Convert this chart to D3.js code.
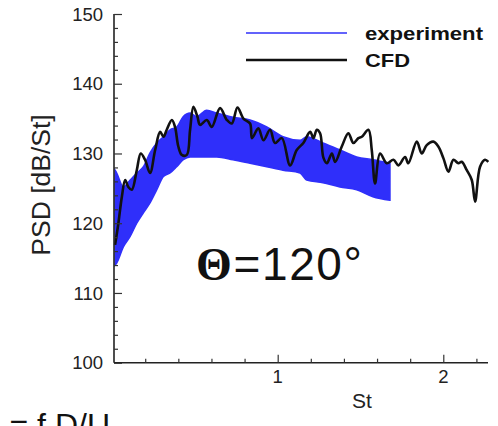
<!DOCTYPE html>
<html lang="en">

<head>
    <meta charset="UTF-8">
    <script src="https://d3js.org/d3.v7.min.js"></script>
    <title>PSD Theta 120</title>
    <style>
        body { margin: 0; background: #fff; }
        svg { display: block; }
    </style>
</head>

<body>
    <div id="chart"></div>

    <script>
        // experiment: band of the noisy spectrum (upper / lower envelope)
        var expSt = [0.018, 0.028, 0.068, 0.109, 0.149, 0.189, 0.229, 0.270, 0.310, 0.350, 0.390, 0.430, 0.471,
            0.511, 0.571, 0.632, 0.730, 0.833, 0.934, 1.032, 1.135, 1.175, 1.273, 1.376, 1.477, 1.575, 1.678];
        var expHigh = [127.6, 127.2, 125.2, 126.2, 127.2, 128.1, 130.1, 131.5, 132.4, 133.4, 133.8, 135.3, 135.8,
            135.3, 136.2, 135.8, 135.2, 134.8, 133.8, 132.4, 131.9, 132.4, 131.5, 130.5, 129.5, 129.1, 128.6];
        var expLow = [114.0, 114.3, 116.6, 118.1, 120.0, 121.5, 122.9, 124.8, 126.7, 127.2, 128.1, 129.1, 129.5,
            129.5, 129.5, 129.5, 129.1, 128.6, 128.1, 127.6, 127.2, 126.2, 125.8, 125.2, 124.8, 123.8, 123.3];

        // CFD spectrum
        var cfdSt = [0.018, 0.038, 0.059, 0.079, 0.098, 0.119, 0.149, 0.173, 0.199, 0.229, 0.260, 0.290, 0.310,
            0.330, 0.361, 0.380, 0.400, 0.421, 0.451, 0.471, 0.491, 0.515, 0.531, 0.572, 0.602, 0.652, 0.693,
            0.723, 0.757, 0.793, 0.833, 0.845, 0.883, 0.914, 0.954, 0.984, 1.025, 1.075, 1.115, 1.155, 1.196,
            1.216, 1.236, 1.256, 1.276, 1.297, 1.327, 1.347, 1.387, 1.427, 1.457, 1.487, 1.508, 1.548, 1.568,
            1.588, 1.618, 1.659, 1.699, 1.729, 1.769, 1.789, 1.840, 1.870, 1.900, 1.940, 1.970, 2.001, 2.031,
            2.061, 2.091, 2.111, 2.142, 2.172, 2.192, 2.222, 2.252, 2.272];
        var cfdPsd = [116.9, 120.0, 123.8, 126.2, 125.2, 124.8, 127.6, 130.0, 129.1, 127.2, 130.5, 133.1, 132.4,
            133.4, 134.8, 133.8, 131.0, 129.8, 129.8, 133.4, 136.7, 135.3, 134.1, 134.8, 133.8, 136.5, 134.8,
            134.3, 136.6, 135.0, 134.3, 132.2, 133.6, 131.9, 133.4, 131.5, 132.2, 128.3, 130.5, 131.5, 133.1,
            132.2, 133.4, 132.9, 129.4, 128.6, 130.0, 128.8, 131.0, 132.9, 131.5, 132.2, 132.4, 133.4, 130.5,
            125.7, 130.0, 128.6, 129.1, 128.3, 129.5, 128.6, 131.7, 130.0, 131.2, 131.7, 131.0, 129.3, 127.4,
            129.1, 128.6, 128.8, 127.6, 126.2, 123.1, 128.1, 129.1, 128.8];

        var yMajor = [100, 110, 120, 130, 140, 150];
        var xMajor = [1, 2];
        var legendNames = ["experiment", "CFD"];
        var legendColors = ["#2f2ffa", "#111111"];

        var W = 498, H = 426;
        var svg = d3.select("#chart").append("svg")
            .attr("width", W)
            .attr("height", H);

        var x = d3.scaleLinear().domain([0.0115, 2.27]).range([114, 488]);
        var y = d3.scaleLinear().domain([100, 150]).range([362.7, 14]);

        // experiment band
        var band = expSt.map((s, i) => ({ st: s, hi: expHigh[i], lo: expLow[i] }));
        var area = d3.area()
            .x(d => x(d.st))
            .y0(d => y(d.lo))
            .y1(d => y(d.hi))
            .curve(d3.curveMonotoneX);
        svg.append("path")
            .datum(band)
            .attr("d", area)
            .attr("fill", legendColors[0])
            .attr("stroke", legendColors[0])
            .attr("stroke-width", 1.5);

        // CFD line
        var cfd = cfdSt.map((s, i) => ({ st: s, v: cfdPsd[i] }));
        var line = d3.line()
            .x(d => x(d.st))
            .y(d => y(d.v))
            .curve(d3.curveCatmullRom);
        svg.append("path")
            .datum(cfd)
            .attr("d", line)
            .attr("fill", "none")
            .attr("stroke", legendColors[1])
            .attr("stroke-width", 2.6)
            .attr("stroke-linejoin", "round");

        // axes (ticks point inward)
        var yAxis = svg.append("g")
            .attr("transform", "translate(114,0)")
            .call(d3.axisRight(y).tickValues(d3.range(100, 151, 2)).tickSize(4).tickFormat(""));
        yAxis.selectAll(".tick line").filter(d => d % 10 === 0).attr("x2", 8);
        yAxis.select(".domain").attr("d", "M0," + y(150) + "V" + y(100));

        var xAxis = svg.append("g")
            .attr("transform", "translate(0,362.7)")
            .call(d3.axisTop(x).tickValues(d3.range(0.2, 2.21, 0.2)).tickSize(4).tickFormat(""));
        xAxis.selectAll(".tick line").filter(d => Math.abs(d - Math.round(d)) < 1e-6).attr("y2", -8);
        xAxis.select(".domain").attr("d", "M114,0H488");

        svg.selectAll(".domain").attr("stroke", "#222").attr("stroke-width", 1.6);
        svg.selectAll(".tick line").attr("stroke", "#333").attr("stroke-width", 1.2);

        var labelFont = "'Liberation Sans', Arial, sans-serif";

        svg.append("g").selectAll("text")
            .data(yMajor)
            .join("text")
            .attr("x", 103)
            .attr("y", d => y(d) + 6.6)
            .attr("text-anchor", "end")
            .attr("font-family", labelFont)
            .attr("font-size", 18.5)
            .attr("fill", "#222")
            .text(d => d);

        svg.append("g").selectAll("text")
            .data(xMajor)
            .join("text")
            .attr("x", d => x(d))
            .attr("y", 383)
            .attr("text-anchor", "middle")
            .attr("font-family", labelFont)
            .attr("font-size", 18.5)
            .attr("fill", "#222")
            .text(d => d);

        svg.append("text")
            .attr("x", 362)
            .attr("y", 408)
            .attr("text-anchor", "middle")
            .attr("font-family", labelFont)
            .attr("font-size", 21)
            .attr("fill", "#222")
            .text("St");

        svg.append("text")
            .attr("transform", "translate(50,185) rotate(-90)")
            .attr("text-anchor", "middle")
            .attr("font-family", labelFont)
            .attr("font-size", 26.5)
            .attr("fill", "#222")
            .text("PSD [dB/St]");

        // legend
        var legendWidths = [118, 45];
        var legend = svg.append("g").selectAll("g")
            .data(legendNames)
            .join("g")
            .attr("transform", (d, i) => "translate(0," + (33 + i * 27) + ")");
        legend.append("line")
            .attr("x1", 246).attr("x2", 347)
            .attr("stroke", (d, i) => legendColors[i])
            .attr("stroke-width", (d, i) => i ? 2.6 : 1.5);
        legend.append("text")
            .attr("x", 365)
            .attr("y", 6.5)
            .attr("font-family", labelFont)
            .attr("font-weight", "bold")
            .attr("font-size", 19)
            .attr("textLength", (d, i) => legendWidths[i])
            .attr("lengthAdjust", "spacingAndGlyphs")
            .attr("fill", "#111")
            .text(d => d);

        // annotation
        var ann = svg.append("text")
            .attr("x", 196)
            .attr("y", 280)
            .attr("font-size", 46)
            .attr("textLength", 166)
            .attr("fill", "#111");
        ann.append("tspan")
            .attr("font-family", "'Liberation Serif', 'DejaVu Serif', serif")
            .attr("font-weight", "bold")
            .text("Θ");
        ann.append("tspan")
            .attr("font-family", labelFont)
            .text("=120°");

        svg.append("text")
            .attr("x", 110)
            .attr("y", 436)
            .attr("text-anchor", "end")
            .attr("font-family", labelFont)
            .attr("font-size", 32)
            .attr("fill", "#111")
            .text("= f D/U");
    </script>
</body>

</html>
